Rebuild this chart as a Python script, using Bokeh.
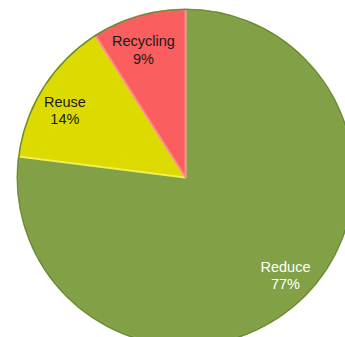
import math
from bokeh.plotting import figure
from bokeh.models import Range1d, ColumnDataSource
from bokeh.core.properties import value
from bokeh.embed import file_html
from bokeh.resources import INLINE

categories = ["Reduce", "Reuse", "Recycling"]
shares = [77, 14, 9]
labels = ["Reduce\n77%", "Reuse\n14%", "Recycling\n9%"]
colors = ["#82A046", "#DCDA00", "#FA5E5E"]
edge_colors = ["#A3BE6E", "#F0EE50", "#FF8C8C"]
label_colors = ["#FFFFFF", "#1A1A1A", "#1A1A1A"]

# label placement style (angle nudge in degrees, radial fraction)
label_nudge = [4.2, 3.4, 2.1]
label_frac = [0.833, 0.821, 0.798]

W, H = 345, 337
cx, cy, r = 185, H - 177, 168

total = sum(shares)
starts, ends, lx, ly = [], [], [], []
cum = 0.0
for i, s in enumerate(shares):
    a0 = cum / total
    cum += s
    a1 = cum / total
    start = math.radians(90 - a1 * 360)
    end = math.radians(90 - a0 * 360)
    starts.append(start)
    ends.append(end)
    mid = (start + end) / 2 + math.radians(label_nudge[i])
    lx.append(cx + label_frac[i] * r * math.cos(mid))
    ly.append(cy + label_frac[i] * r * math.sin(mid))

src = ColumnDataSource(dict(cat=categories, start=starts, end=ends,
                            color=colors, edge=edge_colors,
                            lx=lx, ly=ly, label=labels, lc=label_colors))

p = figure(width=W, height=H, output_backend="svg", toolbar_location=None,
           x_range=Range1d(0, W), y_range=Range1d(0, H), min_border=0)
p.axis.visible = False
p.grid.visible = False
p.outline_line_color = None
p.background_fill_color = "white"
p.border_fill_color = "white"

p.wedge(x=cx, y=cy, radius=r, start_angle="start", end_angle="end",
        direction="anticlock", fill_color="color", line_color="edge",
        line_width=2, source=src)
p.circle(x=cx, y=cy, radius=r, fill_color=None, line_color="#6A8A35",
         line_width=1.5)

p.text(x="lx", y="ly", text="label", text_color="lc", source=src,
       text_align="center", text_baseline="middle",
       text_font=value("Liberation Sans"), text_font_size="14.5px",
       text_line_height=1.1)

open("out.html", "w").write(file_html(p, INLINE))
